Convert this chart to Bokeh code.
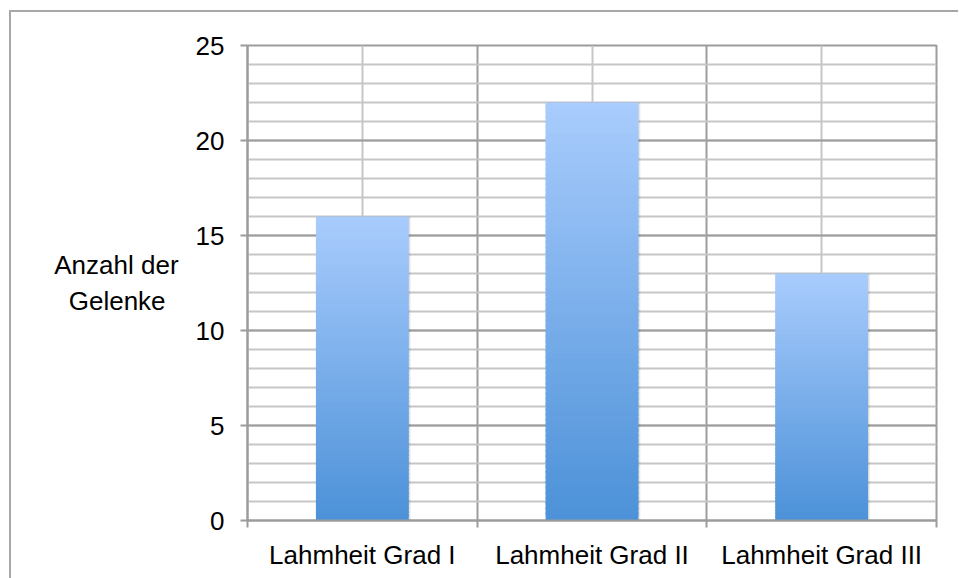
from bokeh.plotting import figure
from bokeh.models import FixedTicker, Range1d
from bokeh.embed import file_html
from bokeh.resources import INLINE

categories = ["Lahmheit Grad I", "Lahmheit Grad II", "Lahmheit Grad III"]
values = [16, 22, 13]
y_ticks = [0, 5, 10, 15, 20, 25]
y_title = ["Anzahl der", "Gelenke\u2002"]

FONT = "Liberation Sans"
TOP_RGB = (169, 204, 253)
BOT_RGB = (76, 145, 216)
DARK = "#9c9c9c"
LIGHT = "#c6c6c6"

p = figure(width=949, height=568, output_backend="svg", toolbar_location=None,
           x_range=Range1d(0, 3), y_range=Range1d(0, 25),
           min_border_left=236, min_border_right=24, min_border_top=33,
           min_border_bottom=60)
p.styles = {"border-left": "2px solid #a8a8a8", "border-top": "2px solid #a8a8a8",
            "margin-left": "9px", "margin-top": "10px"}

centers = [i + 0.5 for i in range(len(categories))]

# shadow
for k in range(4):
    p.vbar(x=[c + 0.004 + 0.002 * k for c in centers], top=values, width=0.404,
           fill_color="#000000", fill_alpha=0.03, line_color=None)

# gradient bars (slices of each bar from bottom to top)
N = 80
xs, bots, tops, cols = [], [], [], []
for c, v in zip(centers, values):
    for k in range(N):
        t = (k + 0.5) / N
        r = round(BOT_RGB[0] + (TOP_RGB[0] - BOT_RGB[0]) * t)
        g = round(BOT_RGB[1] + (TOP_RGB[1] - BOT_RGB[1]) * t)
        b = round(BOT_RGB[2] + (TOP_RGB[2] - BOT_RGB[2]) * t)
        xs.append(c)
        bots.append(v * k / N)
        tops.append(min(v, v * (k + 1.6) / N))
        cols.append("#%02x%02x%02x" % (r, g, b))
p.vbar(x=xs, bottom=bots, top=tops, width=0.404, fill_color=cols, line_color=None)

# axes
p.xaxis.ticker = FixedTicker(ticks=centers, minor_ticks=[0, 1, 2, 3])
p.xaxis.major_label_overrides = {c: lab for c, lab in zip(centers, categories)}
p.xaxis.major_tick_out = 0
p.xaxis.major_tick_in = 0
p.xaxis.minor_tick_out = 7
p.xaxis.minor_tick_in = 0
p.xaxis.minor_tick_line_color = DARK
p.xaxis.minor_tick_line_width = 2
p.xaxis.axis_line_color = DARK
p.xaxis.axis_line_width = 2
p.xaxis.major_label_standoff = 12
p.xaxis.major_label_text_font = FONT
p.xaxis.major_label_text_font_size = "26px"
p.xaxis.major_label_text_color = "#000000"

p.yaxis.ticker = FixedTicker(ticks=y_ticks, minor_ticks=list(range(0, 26)))
p.yaxis.major_tick_out = 7
p.yaxis.major_tick_in = 0
p.yaxis.major_tick_line_color = DARK
p.yaxis.major_tick_line_width = 2
p.yaxis.minor_tick_out = 0
p.yaxis.minor_tick_in = 0
p.yaxis.axis_line_color = DARK
p.yaxis.axis_line_width = 2
p.yaxis.major_label_standoff = 16
p.yaxis.major_label_text_font = FONT
p.yaxis.major_label_text_font_size = "26px"
p.yaxis.major_label_text_color = "#000000"
p.yaxis.axis_label = "\n".join(y_title)
p.yaxis.axis_label_orientation = "horizontal"
p.yaxis.axis_label_text_font = FONT
p.yaxis.axis_label_text_font_size = "26px"
p.yaxis.axis_label_text_font_style = "normal"
p.yaxis.axis_label_text_color = "#000000"
p.yaxis.axis_label_standoff = 14

# grids
p.xgrid.grid_line_color = LIGHT
p.xgrid.grid_line_width = 2
p.xgrid.minor_grid_line_color = DARK
p.xgrid.minor_grid_line_width = 2
p.ygrid.grid_line_color = DARK
p.ygrid.grid_line_width = 2
p.ygrid.minor_grid_line_color = LIGHT
p.ygrid.minor_grid_line_width = 2
p.xgrid.level = "underlay"
p.ygrid.level = "underlay"

p.outline_line_color = DARK
p.outline_line_width = 2
p.background_fill_color = "white"
p.border_fill_color = "white"

open("out.html", "w").write(file_html(p, INLINE))
